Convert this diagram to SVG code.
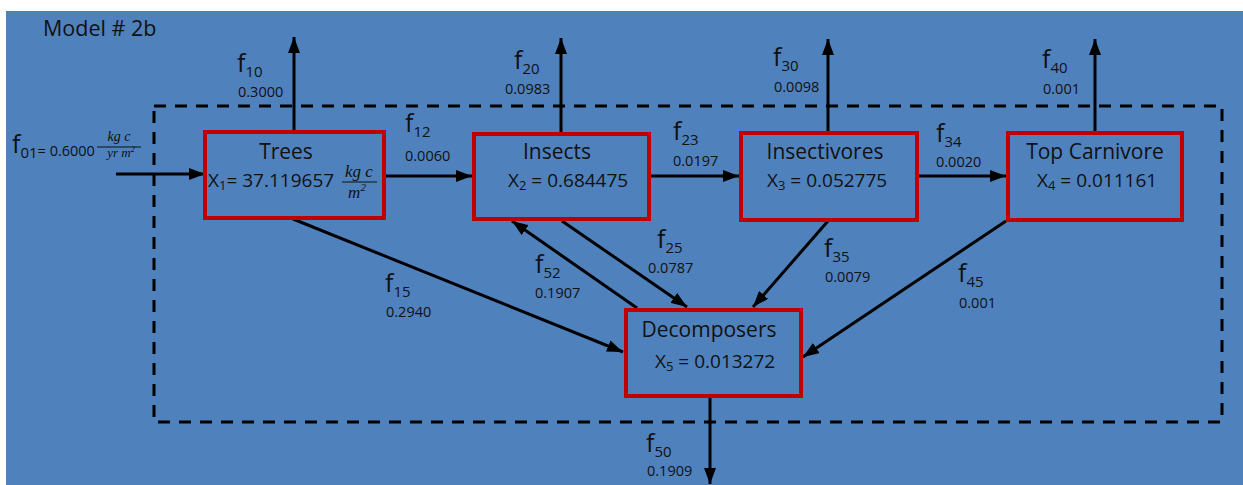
<svg xmlns="http://www.w3.org/2000/svg" width="1243" height="485" viewBox="0 0 1243 485">
<style>
.t{font-family:"Open Sans","Noto Sans",sans-serif;fill:#111;}
.name{font-size:21px;}
.xv{font-size:19px;}
.f{font-size:25px;}
.sub{font-size:15px;}
.v{font-size:14.5px;}
.box{fill:none;stroke:#c00000;stroke-width:4;}
.c{stroke:#000;stroke-width:3;fill:none;marker-end:url(#ah);}
.frac{font-family:"Liberation Serif",serif;font-style:italic;fill:#111;}
</style>
<defs>
<marker id="ah" markerUnits="userSpaceOnUse" markerWidth="16" markerHeight="12" refX="16" refY="6" orient="auto">
<path d="M0,0 L16,6 L0,12 z" fill="#000"/>
</marker>
</defs>
<rect x="6" y="11" width="1237" height="474" fill="#4f81bd"/>
<text class="t" x="43" y="36" font-size="21.5">Model # 2b</text>
<rect id="boundary" x="154" y="106" width="1068" height="316" fill="none" stroke="#000" stroke-width="3" stroke-dasharray="12 9"/>

<g id="connectors">
<line class="c" x1="116" y1="174" x2="205" y2="174"/>
<line class="c" x1="294" y1="131" x2="294" y2="37"/>
<line class="c" x1="561" y1="132" x2="561" y2="38"/>
<line class="c" x1="828" y1="132" x2="828" y2="39"/>
<line class="c" x1="1095" y1="132" x2="1095" y2="39"/>
<line class="c" x1="385" y1="176" x2="472" y2="176"/>
<line class="c" x1="651" y1="176" x2="739" y2="176"/>
<line class="c" x1="919" y1="176" x2="1006" y2="176"/>
<line class="c" x1="293" y1="219" x2="623" y2="352"/>
<line class="c" x1="637" y1="308" x2="512" y2="221"/>
<line class="c" x1="562" y1="221" x2="687" y2="307"/>
<line class="c" x1="828" y1="221" x2="753" y2="307"/>
<line class="c" x1="1006" y1="221" x2="803" y2="357"/>
<line class="c" x1="710" y1="398" x2="710" y2="484"/>
</g>

<g id="trees">
<rect class="box" x="205" y="132" width="179" height="86"/>
<text class="t name" x="286" y="159" text-anchor="middle">Trees</text>
<text class="t xv" x="208" y="187">X<tspan font-size="13" dy="3">1</tspan><tspan dy="-3">= 37.119657</tspan></text>
<text class="frac" x="359" y="177" font-size="17" text-anchor="middle">kg  c</text>
<line x1="342" y1="182" x2="377" y2="182" stroke="#111" stroke-width="1.2"/>
<text class="frac" x="357" y="198" font-size="17" text-anchor="middle">m<tspan font-size="11" dy="-7">2</tspan></text>
</g>

<g id="insects">
<rect class="box" x="474" y="134" width="175" height="85"/>
<text class="t name" x="557" y="159" text-anchor="middle">Insects</text>
<text class="t xv" x="508" y="187">X<tspan font-size="13" dy="3">2</tspan><tspan dy="-3"> = 0.684475</tspan></text>
</g>

<g id="insectivores">
<rect class="box" x="741" y="133" width="176" height="87"/>
<text class="t name" x="825" y="159" text-anchor="middle">Insectivores</text>
<text class="t xv" x="767" y="187">X<tspan font-size="13" dy="3">3</tspan><tspan dy="-3"> =  0.052775</tspan></text>
</g>

<g id="topcarnivore">
<rect class="box" x="1008" y="133" width="174" height="87"/>
<text class="t name" x="1095" y="159" text-anchor="middle">Top Carnivore</text>
<text class="t xv" x="1037" y="187">X<tspan font-size="13" dy="3">4</tspan><tspan dy="-3"> = 0.011161</tspan></text>
</g>

<g id="decomposers">
<rect class="box" x="626" y="310" width="175" height="86"/>
<text class="t name" x="709" y="337" text-anchor="middle">Decomposers</text>
<text class="t xv" x="655" y="368">X<tspan font-size="13" dy="3">5</tspan><tspan dy="-3"> = 0.013272</tspan></text>
</g>

<g id="labels">
<text class="t f" x="12" y="153">f<tspan class="sub" dy="5">01</tspan><tspan font-size="14.5" dy="-2">= 0.6000</tspan></text>
<text class="frac" x="119" y="141" font-size="14" text-anchor="middle">kg c</text>
<line x1="97" y1="147" x2="141" y2="147" stroke="#111" stroke-width="1"/>
<text class="frac" x="121" y="157" font-size="13" text-anchor="middle">yr m<tspan font-size="8" dy="-5">2</tspan></text>

<text class="t f" x="237" y="72">f<tspan class="sub" dy="5">10</tspan></text>
<text class="t v" x="238" y="97">0.3000</text>
<text class="t f" x="514" y="69">f<tspan class="sub" dy="5">20</tspan></text>
<text class="t v" x="505" y="94">0.0983</text>
<text class="t f" x="773" y="66">f<tspan class="sub" dy="5">30</tspan></text>
<text class="t v" x="774" y="92">0.0098</text>
<text class="t f" x="1042" y="68">f<tspan class="sub" dy="5">40</tspan></text>
<text class="t v" x="1043" y="94">0.001</text>

<text class="t f" x="405" y="132">f<tspan class="sub" dy="5">12</tspan></text>
<text class="t v" x="405" y="161">0.0060</text>
<text class="t f" x="673" y="140">f<tspan class="sub" dy="5">23</tspan></text>
<text class="t v" x="673" y="166">0.0197</text>
<text class="t f" x="936" y="142">f<tspan class="sub" dy="5">34</tspan></text>
<text class="t v" x="936" y="167">0.0020</text>

<text class="t f" x="385" y="292">f<tspan class="sub" dy="5">15</tspan></text>
<text class="t v" x="386" y="317">0.2940</text>
<text class="t f" x="535" y="273">f<tspan class="sub" dy="5">52</tspan></text>
<text class="t v" x="535" y="298">0.1907</text>
<text class="t f" x="657" y="248">f<tspan class="sub" dy="5">25</tspan></text>
<text class="t v" x="648" y="273">0.0787</text>
<text class="t f" x="824" y="257">f<tspan class="sub" dy="5">35</tspan></text>
<text class="t v" x="825" y="282">0.0079</text>
<text class="t f" x="958" y="282">f<tspan class="sub" dy="5">45</tspan></text>
<text class="t v" x="959" y="308">0.001</text>
<text class="t f" x="646" y="452">f<tspan class="sub" dy="5">50</tspan></text>
<text class="t v" x="647" y="476">0.1909</text>
</g>
</svg>
